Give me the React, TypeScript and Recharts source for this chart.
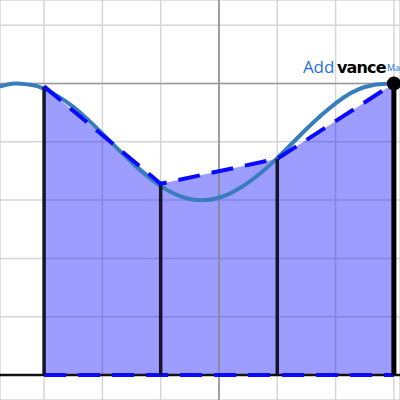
import {
  ComposedChart,
  Line,
  Area,
  XAxis,
  YAxis,
  CartesianGrid,
  ReferenceLine,
  ReferenceDot,
} from "recharts"

// the smooth curve
const curveX = [-3.76, -3.5, -3.25, -3, -2.5, -2, -1.5, -1, -0.5, 0, 0.5, 1, 1.5, 2, 2.5, 3, 3.12]
const curveY = [4.95, 5.0, 4.98, 4.91, 4.6, 4.14, 3.65, 3.24, 3.02, 3.04, 3.3, 3.72, 4.22, 4.66, 4.94, 4.99, 4.94]

// trapezoid nodes
const nodeX = [-3, -1, 1, 3]
const nodeY = [4.95, 3.28, 3.71, 5.0]

const xTicks = [-3, -2, -1, 0, 1, 2, 3]
const yTicks = [0, 1, 2, 3, 4, 5, 6]

const curve = curveX.map((x, i) => ({ x, y: curveY[i] }))
const nodes = nodeX.map((x, i) => ({ x, y: nodeY[i] }))
const base = [
  { x: nodeX[0], y: 0 },
  { x: nodeX[nodeX.length - 1], y: 0 },
]
const last = nodes[nodes.length - 1]

const BLUE = "#0a0aff"

const Label = (props: any) => {
  const vb = props.viewBox || {}
  const cx = vb.x + (vb.width || 0) / 2
  const cy = vb.y + (vb.height || 0) / 2
  return (
    <g>
      <text x={cx - 91} y={cy - 10} fill="#1e6fe6" fontSize={17} fontFamily="Open Sans, sans-serif">
        Add
      </text>
      <text
        x={cx - 57}
        y={cy - 10}
        fill="#000"
        fontSize={16}
        fontWeight="bold"
        letterSpacing={-0.8}
        fontFamily="DejaVu Sans, sans-serif"
      >
        vance
      </text>
      <text x={cx - 7} y={cy - 12} fill="#1e6fe6" fontSize={9} fontFamily="Open Sans, sans-serif">
        Ma
      </text>
    </g>
  )
}

export default function App() {
  return (
    <div style={{ position: "absolute", left: 0, top: 0, background: "#fff" }}>
      <ComposedChart width={400} height={400} margin={{ top: 0, right: 0, bottom: 0, left: 0 }}>
        <XAxis
          type="number"
          dataKey="x"
          domain={[-3.756, 3.105]}
          ticks={xTicks}
          allowDataOverflow
          hide
        />
        <YAxis type="number" domain={[-0.429, 6.432]} ticks={yTicks} allowDataOverflow hide />
        <CartesianGrid stroke="#d6d6d6" strokeWidth={1.5} />
        <ReferenceLine x={0} stroke="#8a8a8a" strokeWidth={1.5} />
        <ReferenceLine y={5} stroke="#9a9a9a" strokeWidth={1.5} />
        <ReferenceLine y={0} stroke="#111" strokeWidth={2.5} />
        <Line
          data={curve}
          dataKey="y"
          type="natural"
          stroke="#3a7dbd"
          strokeWidth={4}
          dot={false}
          isAnimationActive={false}
        />
        <Area
          data={nodes}
          dataKey="y"
          type="linear"
          baseValue={0}
          fill={BLUE}
          fillOpacity={0.4}
          stroke="none"
          isAnimationActive={false}
        />
        <Line
          data={base}
          dataKey="y"
          type="linear"
          stroke={BLUE}
          strokeWidth={4}
          strokeDasharray="22 12"
          dot={false}
          isAnimationActive={false}
        />
        {nodes.map((p, i) => (
          <ReferenceLine
            key={i}
            segment={[
              { x: p.x, y: 0 },
              { x: p.x, y: p.y },
            ]}
            stroke={i === nodes.length - 1 ? "#000" : "#14142a"}
            strokeWidth={i === nodes.length - 1 ? 5 : 3.5}
          />
        ))}
        <Line
          data={nodes}
          dataKey="y"
          type="linear"
          stroke={BLUE}
          strokeWidth={4}
          strokeDasharray="22 12"
          dot={false}
          isAnimationActive={false}
        />
        <ReferenceDot x={last.x} y={last.y} r={7} fill="#000" stroke="none" label={<Label />} />
      </ComposedChart>
    </div>
  )
}
